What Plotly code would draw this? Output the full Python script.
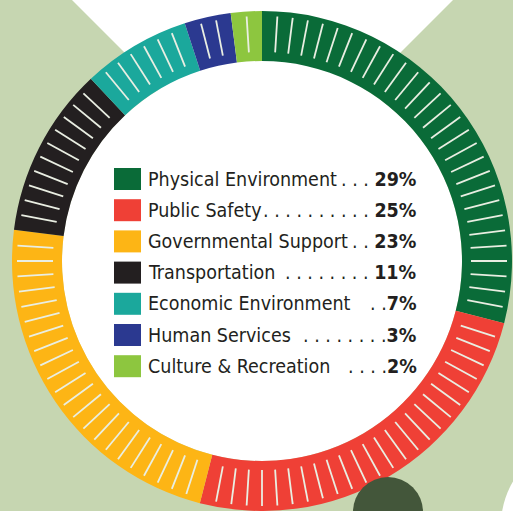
import numpy as np
import plotly.graph_objects as go

W, H = 513, 511

categories = ["Physical Environment", "Public Safety", "Governmental Support",
              "Transportation", "Economic Environment", "Human Services",
              "Culture & Recreation"]
shares = [29, 25, 23, 11, 7, 3, 2]
leaders = [". . . ", ". . . . . . . . . . ", ". . ", ". . . . . . . . ", ". .",
           ". . . . . . . .", ". . . ."]
pct_labels = ["29%", "25%", "23%", "11%", "7%", "3%", "2%"]
colors = ["#0a6b38", "#ef4036", "#fdb515", "#231f20", "#1ba89c", "#2b3990", "#8dc63f"]

cx, cy = 262, 261
R_out, R_in = 250, 200

fig = go.Figure()

fig.add_trace(go.Pie(
    labels=categories, values=shares, sort=False, direction="clockwise", rotation=0,
    hole=R_in / R_out, marker=dict(colors=colors, line=dict(width=0)),
    textinfo="none", hoverinfo="label+percent", showlegend=False,
    domain=dict(x=[(cx - R_out) / W, (cx + R_out) / W],
                y=[(H - cy - R_out) / H, (H - cy + R_out) / H]),
))

shapes = []
bg = "#c6d6b1"
# background
shapes.append(dict(type="rect", xref="x", yref="y", x0=0, x1=W, y0=0, y1=H,
                   fillcolor=bg, line=dict(width=0), layer="below"))
shapes.append(dict(type="path", xref="x", yref="y",
                   path="M 72 0 L 453 0 L 262.5 190.5 Z",
                   fillcolor="white", line=dict(width=0), layer="below"))
shapes.append(dict(type="path", xref="x", yref="y",
                   path="M 514 480 Q 505 494 502 512 L 514 512 Z",
                   fillcolor="white", line=dict(width=0), layer="below"))
shapes.append(dict(type="circle", xref="x", yref="y",
                   x0=cx - R_in, x1=cx + R_in, y0=cy - R_in, y1=cy + R_in,
                   fillcolor="white", line=dict(width=0), layer="below"))

# white tick marks, one per percent unit, skipping slice boundaries
bounds = set(np.cumsum([0] + shares).tolist())
total = sum(shares)
for k in range(total):
    if k in bounds:
        continue
    th = np.deg2rad(360.0 * k / total)
    r0, r1 = 209, 245
    shapes.append(dict(type="line", xref="x", yref="y",
                       x0=cx + r0 * np.sin(th), y0=cy - r0 * np.cos(th),
                       x1=cx + r1 * np.sin(th), y1=cy - r1 * np.cos(th),
                       line=dict(color="#e9eee2", width=1.8), layer="above"))

# dark circle bottom right
shapes.append(dict(type="circle", xref="x", yref="y", x0=353, x1=423, y0=477, y1=547,
                   fillcolor="#43563a", line=dict(width=0), layer="above"))

# legend
annotations = []
font_main = "DejaVu Sans Condensed, Liberation Sans Narrow, Open Sans, sans-serif"
y0, dy = 179, 31.2
for i, (name, lead, pct, col) in enumerate(zip(categories, leaders, pct_labels, colors)):
    y = y0 + i * dy
    shapes.append(dict(type="rect", xref="x", yref="y", x0=114, x1=141, y0=y - 11, y1=y + 11,
                       fillcolor=col, line=dict(width=0), layer="above"))
    annotations.append(dict(x=146, y=y, xref="x", yref="y", xanchor="left", yanchor="middle",
                            text=name, showarrow=False,
                            font=dict(family=font_main, size=19.5, color="#231f20")))
    annotations.append(dict(x=419, y=y, xref="x", yref="y", xanchor="right", yanchor="middle",
                            text=lead + "<b>" + pct + "</b>", showarrow=False,
                            font=dict(family=font_main, size=19.5, color="#231f20")))

fig.update_layout(
    width=W, height=H, margin=dict(l=0, r=0, t=0, b=0),
    paper_bgcolor="white", plot_bgcolor="rgba(0,0,0,0)",
    xaxis=dict(range=[0, W], visible=False, fixedrange=True),
    yaxis=dict(range=[H, 0], visible=False, fixedrange=True),
    shapes=shapes, annotations=annotations, showlegend=False,
)

fig.write_html("out.html")
